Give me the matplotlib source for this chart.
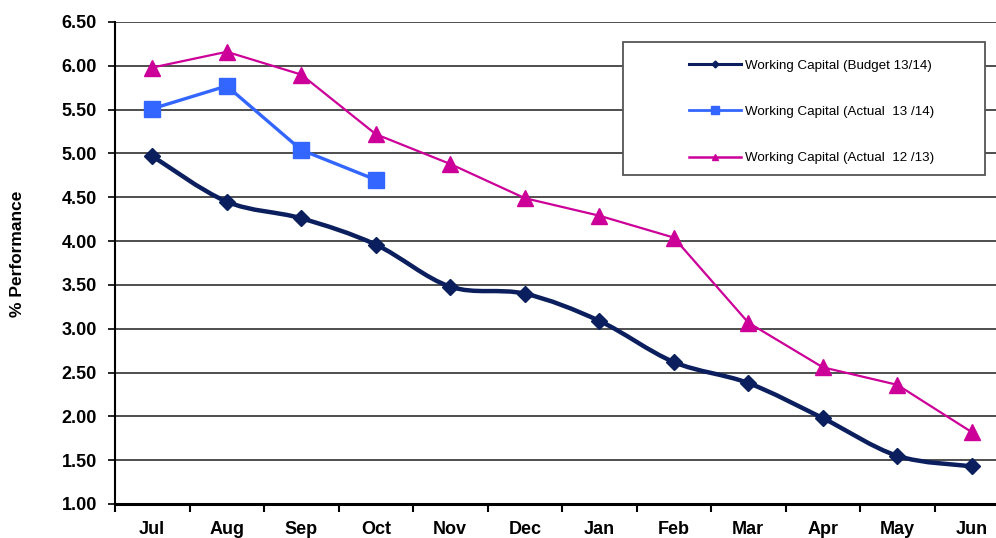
import matplotlib.pyplot as plt
import numpy as np
from matplotlib.path import Path
from matplotlib.patches import PathPatch, Rectangle
from matplotlib.lines import Line2D

# ==========================================
# DATEN
# ==========================================
months = ["Jul", "Aug", "Sep", "Oct", "Nov", "Dec", "Jan", "Feb", "Mar", "Apr", "May", "Jun"]
budget_1314 = [4.97, 4.45, 4.26, 3.96, 3.48, 3.40, 3.09, 2.62, 2.38, 1.98, 1.55, 1.43]
actual_1314 = [5.51, 5.77, 5.04, 4.70]
actual_1213 = [5.98, 6.16, 5.90, 5.22, 4.88, 4.49, 4.29, 4.04, 3.07, 2.56, 2.36, 1.82]
y_ticks = [1.0, 1.5, 2.0, 2.5, 3.0, 3.5, 4.0, 4.5, 5.0, 5.5, 6.0, 6.5]

labels = ["Working Capital (Budget 13/14)",
          "Working Capital (Actual  13 /14)",
          "Working Capital (Actual  12 /13)"]

c_navy = '#0b1f5e'
c_blue = '#3366ff'
c_mag = '#cc0099'

plt.rcParams['font.family'] = ['Liberation Sans', 'DejaVu Sans']


def smooth_path(xs, ys):
    # Excel-artige Glaettung (Bezier mit Catmull-Rom Kontrollpunkten)
    pts = np.column_stack([xs, ys]).astype(float)
    n = len(pts)
    verts = [pts[0]]
    codes = [Path.MOVETO]
    for i in range(n - 1):
        p0 = pts[i - 1] if i > 0 else pts[i]
        p1 = pts[i]
        p2 = pts[i + 1]
        p3 = pts[i + 2] if i + 2 < n else pts[i + 1]
        c1 = p1 + (p2 - p0) / 6.0
        c2 = p2 - (p3 - p1) / 6.0
        verts += [c1, c2, p2]
        codes += [Path.CURVE4] * 3
    return Path(verts, codes)


fig = plt.figure(figsize=(9.96, 5.38), dpi=100)
fig.patch.set_facecolor('white')
ax = fig.add_axes([115 / 996, 1 - 504 / 538, 894 / 996, 482 / 538])

x = np.arange(len(months))

# Gitterlinien
for yv in y_ticks[1:]:
    ax.axhline(yv, color='#404040', lw=1.3, zorder=1)

# Budget 13/14 (geglaettet)
patch = PathPatch(smooth_path(x, budget_1314), facecolor='none', edgecolor=c_navy,
                  lw=3.2, zorder=3, capstyle='round', joinstyle='round')
ax.add_patch(patch)
ax.plot(x, budget_1314, linestyle='none', marker='D', markersize=8,
        color=c_navy, zorder=4)

# Actual 13/14
ax.plot(x[:len(actual_1314)], actual_1314, color=c_blue, lw=2.4, marker='s',
        markersize=11, zorder=4)

# Actual 12/13
ax.plot(x, actual_1213, color=c_mag, lw=1.6, marker='^', markersize=11, zorder=4)

# Achsen
ax.set_xlim(-0.5, 11.5)
ax.set_ylim(1.0, 6.5)
ax.set_yticks(y_ticks)
ax.set_yticklabels([f"{v:.2f}" for v in y_ticks], fontsize=13, fontweight='bold')
ax.set_xticks(x)
ax.set_xticklabels(months, fontsize=13, fontweight='bold')
ax.set_xticks(np.arange(-0.5, 12, 1), minor=True)
ax.tick_params(axis='x', which='major', length=0, pad=12)
ax.tick_params(axis='x', which='minor', length=6, width=1.5, direction='out')
ax.tick_params(axis='y', length=5, width=1.2, direction='out', pad=8)

for s in ['top', 'right']:
    ax.spines[s].set_visible(False)
ax.spines['left'].set_linewidth(1.5)
ax.spines['bottom'].set_linewidth(2.2)
ax.spines['left'].set_zorder(5)
ax.spines['bottom'].set_zorder(5)

fig.text(18 / 996, 1 - 254 / 538, "% Performance", rotation=90, ha='center', va='center',
         fontsize=12.5, fontweight='bold')

# Legende
box = Rectangle(((623 - 115) / 894, (504 - 175) / 482), (985 - 623) / 894, (175 - 42) / 482,
                transform=ax.transAxes, facecolor='white', edgecolor='#555555', lw=1.3, zorder=6)
ax.add_patch(box)
handles = [
    Line2D([], [], color=c_navy, lw=2.2, marker='D', markersize=3.5),
    Line2D([], [], color=c_blue, lw=2.0, marker='s', markersize=6),
    Line2D([], [], color=c_mag, lw=1.8, marker='^', markersize=5),
]
leg = ax.legend(handles, labels, loc='upper left',
                bbox_to_anchor=((686 - 115) / 894 - 0.012, (504 - 46) / 482),
                frameon=False, fontsize=9.6, handlelength=3.9, handletextpad=0.3,
                labelspacing=2.55, borderpad=0.5)
leg.set_zorder(7)

fig.savefig("out.png", dpi=100, facecolor='white')
